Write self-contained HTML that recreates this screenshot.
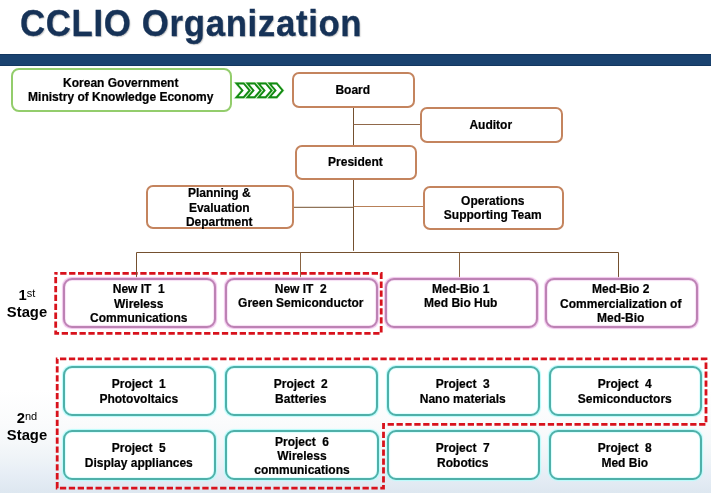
<!DOCTYPE html>
<html><head><meta charset="utf-8">
<style>
html,body{margin:0;padding:0;}
.b,.lab,.title{will-change:transform;}
body{width:711px;height:493px;position:relative;overflow:hidden;font-family:"Liberation Sans",sans-serif;
background:linear-gradient(to bottom,#ffffff 0px,#ffffff 390px,#fafbfc 423px,#f5f8fa 443px,#eef3f7 460px,#e7eef6 473px,#dde7f0 493px);}
.title{position:absolute;left:19.5px;top:2px;font-size:34.8px;letter-spacing:0.65px;transform-origin:0 0;transform:scaleY(1.075);font-weight:bold;color:#163257;-webkit-text-stroke:0.3px #163257;white-space:nowrap;
text-shadow:1px 1px 1.2px rgba(0,0,0,0.22);}
.band{position:absolute;left:0;top:54px;width:711px;height:12px;box-sizing:border-box;background:#1a4370;border-top:1px solid #133760;border-bottom:1px solid #133760;}
.b{position:absolute;box-sizing:border-box;border-radius:7px;background:#fff;display:flex;align-items:center;justify-content:center;
text-align:center;font-size:12px;font-weight:bold;line-height:14.4px;color:#000;padding-right:1.5px;-webkit-text-stroke:0.2px #000;}
.l15{line-height:15px;padding-top:2px;}
.br{border:2px solid #c4845e;border-radius:7px;}
.pk{border:2px solid #bd82b4;border-radius:9px;box-shadow:0 0 1px 0.4px #f0c4ec, inset 0 0 1px 0.4px #f0c4ec;}
.tl{border:2px solid #4fb0a9;border-radius:9px;box-shadow:0 0 1px 0.6px #b8fcfc, inset 0 0 1px 0.6px #c0ffff;}
.gr{border:2px solid #93cd6c;border-radius:8px;}
svg{position:absolute;left:0;top:0;}
.lab{position:absolute;font-weight:bold;font-size:14.8px;line-height:17px;text-align:center;color:#000;}
.lab sup{font-size:11px;font-weight:normal;vertical-align:top;position:relative;top:-2px;}
</style></head><body>
<div class="title">CCLIO Organization</div>
<div class="band"></div>

<svg width="711" height="493">
  <g stroke="#d8121c" stroke-width="2.8" fill="none" stroke-dasharray="6.3 2.6">
    <rect x="55.7" y="273.3" width="325.5" height="60" stroke-dashoffset="4.4"/>
    <path d="M57.2 358.9 H706 V424.3 H383.5 V488.2 H57.2 Z" stroke-dashoffset="6.1"/>
  </g>
  <g stroke="#74502f" stroke-width="1" fill="none">
    <line x1="353.5" y1="106" x2="353.5" y2="147"/>
    <line x1="353.5" y1="124.5" x2="421" y2="124.5" stroke="#90684a"/>
    <line x1="353.5" y1="180" x2="353.5" y2="250.8"/>
    <line x1="293" y1="207.3" x2="353.5" y2="207.3"/>
    <line x1="353.5" y1="206.5" x2="424" y2="206.5" stroke="#b88058"/>
    <path d="M136.5 279 V252.5 H618.5 V279"/>
    <line x1="300.5" y1="252.5" x2="300.5" y2="279" stroke="#8a6442"/>
    <line x1="459.5" y1="252.5" x2="459.5" y2="279" stroke="#8a6442"/>
  </g>
  <g fill="none" stroke="#c8f0c0" stroke-width="3.0" stroke-linejoin="miter">
    <path d="M236.6 83.5 H243.7 L249.6 90.4 L243.7 97.2 H236.6 L242.5 90.4 Z"/>
    <path d="M247.6 83.5 H254.7 L260.6 90.4 L254.7 97.2 H247.6 L253.5 90.4 Z"/>
    <path d="M258.6 83.5 H265.7 L271.6 90.4 L265.7 97.2 H258.6 L264.5 90.4 Z"/>
    <path d="M269.6 83.5 H276.7 L282.6 90.4 L276.7 97.2 H269.6 L275.5 90.4 Z"/>
  </g>
<g fill="#fff" stroke="#138a13" stroke-width="1.9" stroke-linejoin="miter">
    <path d="M236.6 83.5 H243.7 L249.6 90.4 L243.7 97.2 H236.6 L242.5 90.4 Z"/>
    <path d="M247.6 83.5 H254.7 L260.6 90.4 L254.7 97.2 H247.6 L253.5 90.4 Z"/>
    <path d="M258.6 83.5 H265.7 L271.6 90.4 L265.7 97.2 H258.6 L264.5 90.4 Z"/>
    <path d="M269.6 83.5 H276.7 L282.6 90.4 L276.7 97.2 H269.6 L275.5 90.4 Z"/>
  </g>
</svg>

<div class="b gr" style="left:11px;top:68px;width:221px;height:43.6px;padding-top:1px;">Korean Government<br>Ministry of Knowledge Economy</div>
<div class="b br" style="left:292px;top:72px;width:123px;height:36px;">Board</div>
<div class="b br" style="left:420px;top:107px;width:143px;height:35.8px;padding-top:0.6px;">Auditor</div>
<div class="b br" style="left:295px;top:145.3px;width:122.3px;height:35.2px;">President</div>
<div class="b br" style="left:146px;top:185px;width:148px;height:44px;padding-top:1.5px;">Planning &amp;<br>Evaluation<br>Department</div>
<div class="b br" style="left:423px;top:186px;width:141px;height:44px;">Operations<br>Supporting Team</div>

<div class="b pk" style="left:63.3px;top:278.4px;width:153px;height:50.4px;padding-top:1.5px;">New IT&nbsp;&nbsp;1<br>Wireless<br>Communications</div>
<div class="b pk" style="left:225px;top:278.4px;width:153px;height:50.4px;align-items:flex-start;padding-top:2px;">New IT&nbsp;&nbsp;2<br>Green Semiconductor</div>
<div class="b pk" style="left:385px;top:278.4px;width:153px;height:50.4px;align-items:flex-start;padding-top:2px;">Med-Bio 1<br>Med Bio Hub</div>
<div class="b pk" style="left:545px;top:278.4px;width:153px;height:50.4px;padding-top:1.5px;">Med-Bio 2<br>Commercialization of<br>Med-Bio</div>

<div class="b tl l15" style="left:63px;top:366.3px;width:153px;height:50.2px;">Project&nbsp;&nbsp;1<br>Photovoltaics</div>
<div class="b tl l15" style="left:225px;top:366.3px;width:153px;height:50.2px;">Project&nbsp;&nbsp;2<br>Batteries</div>
<div class="b tl l15" style="left:387px;top:366.3px;width:153px;height:50.2px;">Project&nbsp;&nbsp;3<br>Nano materials</div>
<div class="b tl l15" style="left:549px;top:366.3px;width:153px;height:50.2px;">Project&nbsp;&nbsp;4<br>Semiconductors</div>
<div class="b tl l15" style="left:63px;top:430px;width:153px;height:50px;">Project&nbsp;&nbsp;5<br>Display appliances</div>
<div class="b tl" style="left:225px;top:430px;width:153.5px;height:50.3px;padding-top:2px;padding-right:0;padding-left:0.5px;">Project&nbsp;&nbsp;6<br>Wireless<br>communications</div>
<div class="b tl l15" style="left:387px;top:430px;width:153px;height:50px;">Project&nbsp;&nbsp;7<br>Robotics</div>
<div class="b tl l15" style="left:549px;top:430px;width:153px;height:50px;">Project&nbsp;&nbsp;8<br>Med Bio</div>

<div class="lab" style="left:4px;top:287px;width:46px;">1<sup>st</sup><br>Stage</div>
<div class="lab" style="left:3.8px;top:410px;width:46px;">2<sup>nd</sup><br>Stage</div>
</body></html>
